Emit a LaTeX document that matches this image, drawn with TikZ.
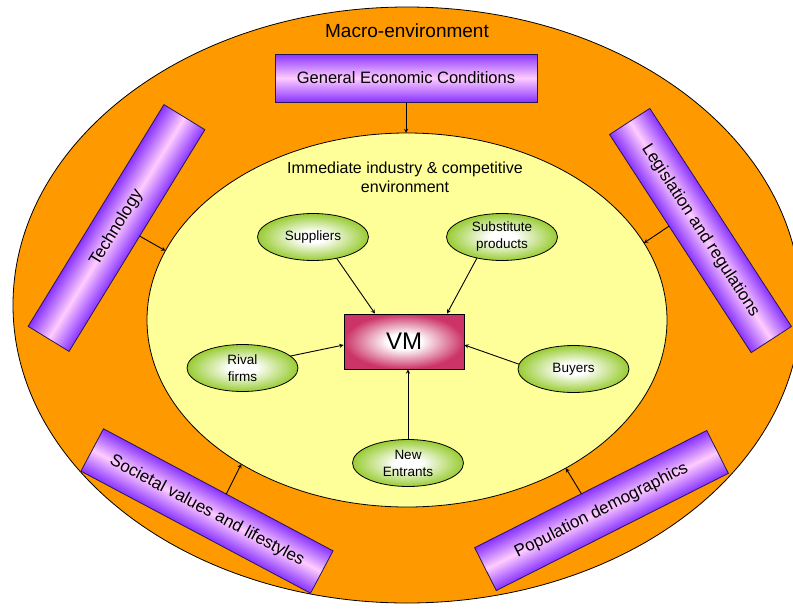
\documentclass[tikz,border=0pt]{standalone}
\usepackage{fontspec}
\setmainfont{Liberation Sans}
\usetikzlibrary{shapes.geometric,calc}

\definecolor{macroorange}{RGB}{255,153,0}
\definecolor{industryyellow}{RGB}{255,255,153}
\definecolor{forcepurple}{RGB}{136,51,255}
\definecolor{forcepink}{RGB}{255,204,255}
\definecolor{playergreen}{RGB}{153,204,51}
\definecolor{vmred}{RGB}{204,51,102}
\definecolor{edgeblue}{RGB}{40,20,90}

\pgfdeclareradialshading{playershade}{\pgfpoint{0bp}{0bp}}{color(0bp)=(white); color(6bp)=(white); color(25bp)=(playergreen); color(50bp)=(playergreen)}
\pgfdeclareradialshading{vmshade}{\pgfpoint{0bp}{0bp}}{color(0bp)=(white); color(7bp)=(white); color(25bp)=(vmred); color(50bp)=(vmred)}

\begin{document}
\begin{tikzpicture}[x=1pt,y=-1pt,
    force/.style={rectangle, draw=edgeblue, line width=0.8pt, minimum width=260pt, minimum height=48pt, inner sep=0pt, outer sep=0pt, font=\fontsize{17}{20}\selectfont},
    forcebody/.style={top color=forcepurple, bottom color=forcepurple, middle color=forcepink},
    player/.style={ellipse, draw=black, line width=0.8pt, shading=playershade, minimum width=111pt, minimum height=47pt, inner sep=0pt, outer sep=0pt, align=center, font=\fontsize{13.5}{17}\selectfont},
    link/.style={->, >=stealth, line width=0.9pt}]

    % Page
    \useasboundingbox (0,0) rectangle (793,611);
    \fill[white] (0,0) rectangle (793,611);
    \clip (0,0) rectangle (793,611);

    % Environments
    \node[ellipse, draw, line width=0.8pt, fill=macroorange, minimum width=788pt, minimum height=596pt, inner sep=0pt, outer sep=0pt] (macro) at (407,305) {};
    \node[ellipse, draw, line width=0.8pt, fill=industryyellow, minimum width=520pt, minimum height=374pt, inner sep=0pt, outer sep=0pt] (industry) at (407,320) {};

    \node[font=\fontsize{19}{22}\selectfont] (macrotitle) at (407,31) {Macro-environment};
    \node[align=center, font=\fontsize{16}{19}\selectfont] (industrytitle) at (405,177) {Immediate industry \& competitive\\environment};

    % Macro forces (tilted bodies shaded in their own frame)
    \foreach \cx/\cy/\ang in {116.5/228/58.5, 700.5/230.5/-57, 207/511/-28, 601.5/510.5/26.8}{
      \begin{scope}[transform canvas={shift={(\cx,\cy)}, rotate=\ang}]
        \shade[forcebody] (-130,-24) rectangle (130,24);
      \end{scope}
    }
    \node[force, forcebody, minimum width=262pt, font=\fontsize{16.5}{20}\selectfont] (economy) at (406,78) {General Economic Conditions};
    \node[force, rotate=58.5] (technology) at (116.5,228) {Technology};
    \node[force, rotate=-57] (legislation) at (700.5,230.5) {Legislation and regulations};
    \node[force, rotate=-28] (societal) at (207,511) {Societal values and lifestyles};
    \node[force, rotate=26.8] (population) at (601.5,510.5) {Population demographics};

    \draw[link] (economy.south) -- (economy.south |- industry.north);
    \draw[link] ($(technology.south west)!0.52!(technology.south east)$) -- (industry.164);
    \draw[link] ($(legislation.south west)!0.42!(legislation.south east)$) -- (industry.18);
    \draw[link] ($(societal.north west)!0.535!(societal.north east)$) -- (industry.221);
    \draw[link] ($(population.north west)!0.46!(population.north east)$) -- (industry.317.5);

    % Industry players
    \node[rectangle, draw, line width=0.8pt, shading=vmshade, minimum width=120pt, minimum height=55pt, font=\fontsize{24}{28}\selectfont] (vm) at (404,341.5) {VM};

    \node[player] (suppliers) at (313,237) {Suppliers};
    \node[player] (substitutes) at (502,237) {Substitute\\products};
    \node[player] (rivals) at (242.5,368) {Rival\\firms};
    \node[player] (buyers) at (573.5,369) {Buyers};
    \node[player] (entrants) at (408,463) {New\\Entrants};

    \draw[link] (suppliers.-42) -- ([xshift=-29pt]vm.north);
    \draw[link] (substitutes.-140) -- ([xshift=43pt]vm.north);
    \draw[link] (rivals.14) -- ([yshift=-3.5pt]vm.west);
    \draw[link] (buyers.175) -- ([yshift=-3.5pt]vm.east);
    \draw[link] (entrants.north) -- (entrants.north |- vm.south);

\end{tikzpicture}
\end{document}
